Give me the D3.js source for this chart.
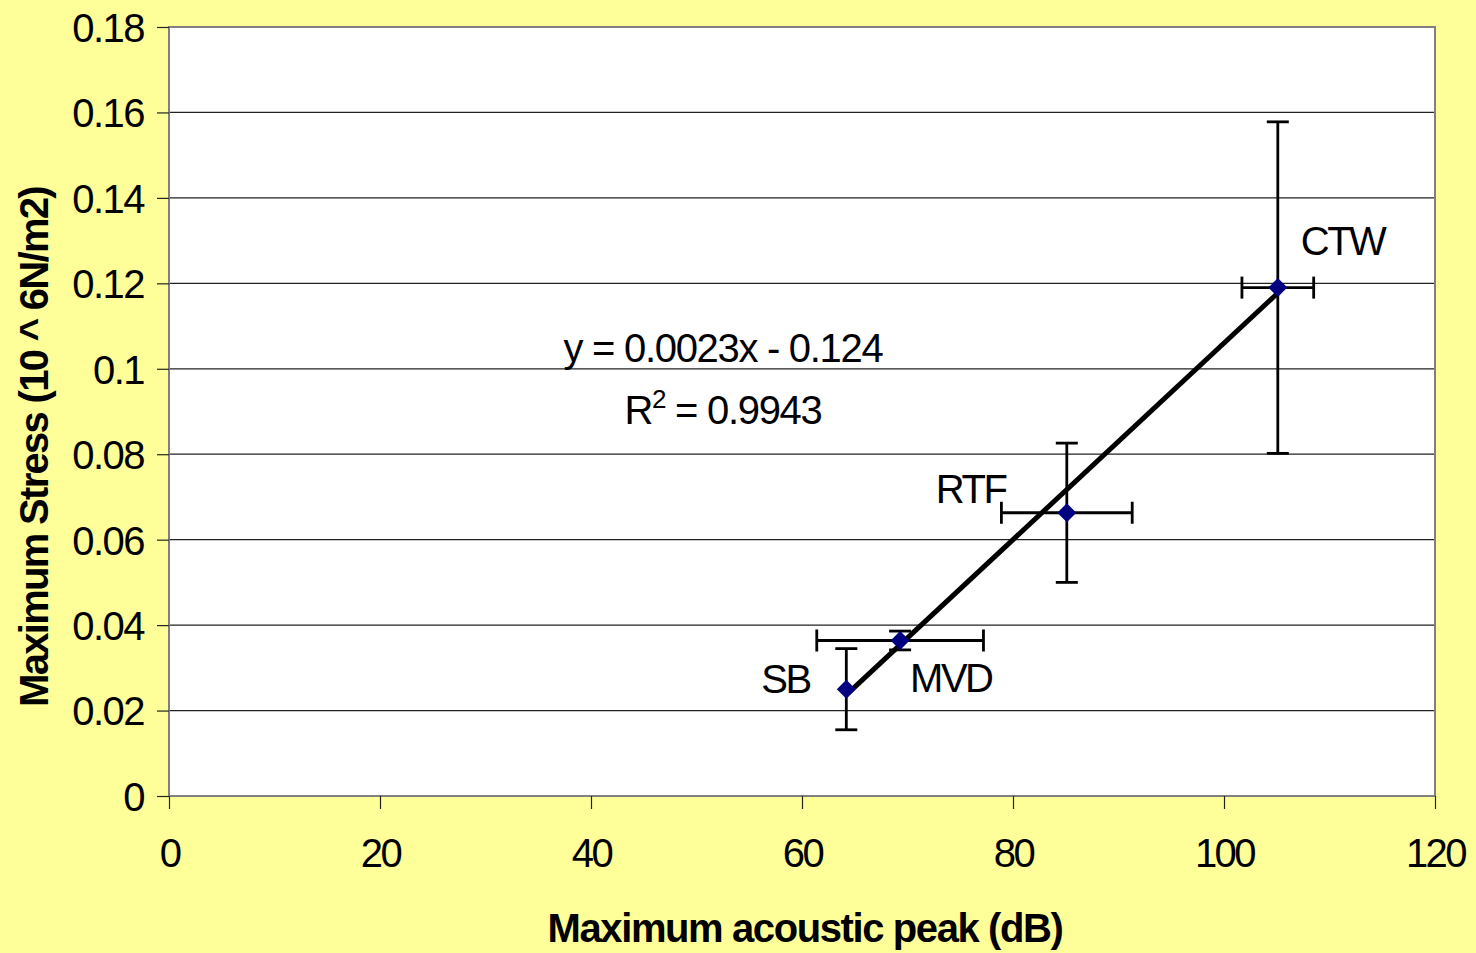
<!DOCTYPE html>
<html>
<head>
<meta charset="utf-8">
<script src="https://cdn.jsdelivr.net/npm/d3@7"></script>
<style>
  body { margin: 0; background: #ffff99; }
  svg { display: block; font-family: "Liberation Sans", Arial, sans-serif; }
</style>
</head>
<body>
<svg id="chart" width="1476" height="953"></svg>
<script>
// data
const names = ["SB", "MVD", "RTF", "CTW"];
const peakDb = [64.2, 69.3, 85.1, 105.1];
const peakErr = [0, 7.9, 6.2, 3.4];
const stress = [0.025, 0.0364, 0.0663, 0.119];
const stressErr = [0.0095, 0.0022, 0.0163, 0.0388];
const xTicks = [0, 20, 40, 60, 80, 100, 120];
const yTicks = [0, 0.02, 0.04, 0.06, 0.08, 0.1, 0.12, 0.14, 0.16, 0.18];
const trendSlope = 0.0023, trendIntercept = -0.124;

const points = names.map((n, i) => ({
    name: n, x: peakDb[i], xe: peakErr[i], y: stress[i], ye: stressErr[i]
}));

// label offsets relative to point (px)
const labelPos = {
    SB:  { dx: -85, dy: 4 },
    MVD: { dx: 10, dy: 52 },
    RTF: { dx: -131, dy: -10 },
    CTW: { dx: 23, dy: -33 }
};

const plotL = 169, plotR = 1435, plotT = 27, plotB = 796;
const svg = d3.select("#chart");

const x = d3.scaleLinear().domain([0, 120]).range([plotL, plotR]);
const y = d3.scaleLinear().domain([0, 0.18]).range([plotB, plotT]);

// plot area
svg.append("rect")
    .attr("x", plotL).attr("y", plotT)
    .attr("width", plotR - plotL).attr("height", plotB - plotT)
    .attr("fill", "white");

// gridlines
svg.append("g")
    .selectAll("line")
    .data(yTicks.filter(d => d > 0))
    .enter()
    .append("line")
    .attr("x1", plotL).attr("x2", plotR)
    .attr("y1", d => y(d)).attr("y2", d => y(d))
    .attr("stroke", "#222").attr("stroke-width", 1.2);

// border
svg.append("rect")
    .attr("x", plotL).attr("y", plotT)
    .attr("width", plotR - plotL).attr("height", plotB - plotT)
    .attr("fill", "none").attr("stroke", "#808080").attr("stroke-width", 2);

// axes
const xAxis = d3.axisBottom(x).tickValues(xTicks).tickSize(13).tickPadding(30)
    .tickFormat(d3.format("d"));
const yAxis = d3.axisLeft(y).tickValues(yTicks).tickSize(12).tickPadding(13)
    .tickFormat(d => d === 0 ? "0" : String(+d.toFixed(2)));

const gx = svg.append("g").attr("transform", "translate(0," + plotB + ")").call(xAxis);
const gy = svg.append("g").attr("transform", "translate(" + plotL + ",0)").call(yAxis);

[gx, gy].forEach(g => {
    g.select(".domain").remove();
    g.selectAll(".tick line").attr("stroke", "#222").attr("stroke-width", 1.2);
    g.selectAll(".tick text")
        .attr("fill", "black")
        .attr("font-size", "40px")
        .attr("font-family", "Liberation Sans, Arial, sans-serif");
});
gx.selectAll(".tick text").style("letter-spacing", "-2.5px");
gy.selectAll(".tick text").style("letter-spacing", "-1.5px").attr("dy", "0.36em");

// trend line
const tx0 = d3.min(peakDb), tx1 = d3.max(peakDb);
svg.append("line")
    .attr("x1", x(tx0)).attr("y1", y(trendSlope * tx0 + trendIntercept))
    .attr("x2", x(tx1)).attr("y2", y(trendSlope * tx1 + trendIntercept))
    .attr("stroke", "black").attr("stroke-width", 5);

// error bars
const eb = svg.append("g").attr("stroke", "black").attr("stroke-width", 2.8);
const cap = 11;
points.forEach(p => {
    if (p.ye > 0) {
        eb.append("line").attr("x1", x(p.x)).attr("x2", x(p.x))
            .attr("y1", y(p.y - p.ye)).attr("y2", y(p.y + p.ye));
        [p.y - p.ye, p.y + p.ye].forEach(v => {
            eb.append("line").attr("x1", x(p.x) - cap).attr("x2", x(p.x) + cap)
                .attr("y1", y(v)).attr("y2", y(v));
        });
    }
    if (p.xe > 0) {
        eb.append("line").attr("x1", x(p.x - p.xe)).attr("x2", x(p.x + p.xe))
            .attr("y1", y(p.y)).attr("y2", y(p.y));
        [p.x - p.xe, p.x + p.xe].forEach(v => {
            eb.append("line").attr("x1", x(v)).attr("x2", x(v))
                .attr("y1", y(p.y) - cap).attr("y2", y(p.y) + cap);
        });
    }
});

// markers
svg.selectAll(".pt")
    .data(points)
    .enter()
    .append("path")
    .attr("class", "pt")
    .attr("d", "M0,-9.5L9.5,0L0,9.5L-9.5,0Z")
    .attr("transform", d => "translate(" + x(d.x) + "," + y(d.y) + ")")
    .attr("fill", "#000080");

// point labels
svg.selectAll(".lbl")
    .data(points)
    .enter()
    .append("text")
    .attr("class", "lbl")
    .attr("x", d => x(d.x) + labelPos[d.name].dx)
    .attr("y", d => y(d.y) + labelPos[d.name].dy)
    .attr("font-size", "40px")
    .style("letter-spacing", "-2.5px")
    .text(d => d.name);

// trend equation
const eq = svg.append("g").attr("font-size", "40px").style("letter-spacing", "-1.3px");
eq.append("text").attr("x", 723).attr("y", 362).attr("text-anchor", "middle")
    .text("y = 0.0023x - 0.124");
const r2 = eq.append("text").attr("x", 723).attr("y", 424).attr("text-anchor", "middle");
r2.append("tspan").text("R");
r2.append("tspan").attr("font-size", "26px").attr("dy", "-16").text("2");
r2.append("tspan").attr("dy", "16").text(" = 0.9943");

// axis titles
svg.append("text")
    .attr("x", 805).attr("y", 942)
    .attr("text-anchor", "middle")
    .attr("font-size", "40px").attr("font-weight", "bold")
    .style("letter-spacing", "-1.4px")
    .text("Maximum acoustic peak (dB)");

svg.append("text")
    .attr("transform", "translate(48,447) rotate(-90)")
    .attr("text-anchor", "middle")
    .attr("font-size", "40px").attr("font-weight", "bold")
    .style("letter-spacing", "-1.7px")
    .text("Maximum Stress (10 ^ 6N/m2)");
</script>
</body>
</html>
